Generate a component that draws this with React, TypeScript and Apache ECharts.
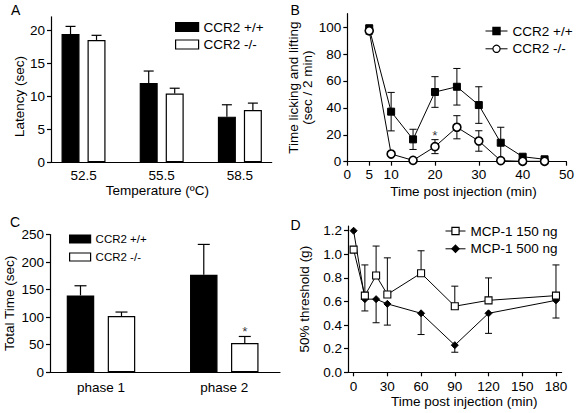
import React, { useEffect, useRef } from 'react';
import * as echarts from 'echarts';

const FONT = '"Liberation Sans", Arial, Helvetica, sans-serif';
const INK = '#000';

// ---------- Panel A : latency vs temperature ----------
const tempCategories = ['52.5', '55.5', '58.5'];
const latencyWT = [19.4, 12.0, 6.9];
const latencyWTsem = [1.15, 1.8, 1.8];
const latencyKO = [18.5, 10.4, 7.9];
const latencyKOsem = [0.7, 0.8, 1.05];
const latencyTicks = [0, 5, 10, 15, 20];

// ---------- Panel B : licking / lifting time course ----------
const timeB = [5, 10, 15, 20, 25, 30, 35, 40, 45];
const lickWT = [99.1, 37.2, 16.6, 51.8, 55.7, 42.1, 14.1, 3.7, 1.8];
const lickWTsem = [2.5, 14.3, 7.5, 11.4, 13.6, 13.6, 11.5, 1.5, 1.0];
const lickKO = [97.3, 5.7, 1.0, 11.2, 25.6, 15.4, 0.8, 0.3, 0.3];
const lickKOsem = [2.5, 1.5, 0.8, 5.2, 8.6, 7.6, 0.8, 0.5, 0.5];
const lickXTicks = [0, 5, 10, 20, 30, 40, 50];
const lickYTicks = [0, 20, 40, 60, 80, 100];
const lickStars = [[20, 19.8]];

// ---------- Panel C : total time per phase ----------
const phaseCategories = ['phase 1', 'phase 2'];
const totalWT = [139.5, 177];
const totalWTsem = [17.5, 55];
const totalKO = [102, 53];
const totalKOsem = [7.3, 12];
const totalTicks = [0, 50, 100, 150, 200, 250];
const totalStars = [[2, 73.5]];

// ---------- Panel D : 50% threshold time course ----------
const timeD = [0, 10, 20, 30, 60, 90, 120, 180];
const thr150 = [1.04, 0.65, 0.82, 0.66, 0.84, 0.56, 0.61, 0.65];
const thr150sem = [0, 0.26, 0.25, 0.31, 0.19, 0.17, 0.19, 0.26];
const thr500 = [1.2, 0.62, 0.62, 0.58, 0.5, 0.23, 0.5, 0.61];
const thr500sem = [0, 0.1, 0.2, 0.18, 0.18, 0.06, 0.17, 0.15];
const thrXTicks = [0, 30, 60, 90, 120, 150, 180];
const thrYTicks = [0, 0.2, 0.4, 0.6, 0.8, 1.0, 1.2];

// styling constants
const A_BAR_W = 18;
const A_GAP = 8;
const C_BAR_W = 27.5;
const C_GAP = 13.5;

const txt = (size = 13.5) => ({ color: INK, fontSize: size, fontFamily: FONT });

function valueAxis(gridIndex: number, opts: any) {
  const { ticks, tickShow = true, labelFormatter, margin = 6, ...rest } = opts;
  return {
    type: 'value',
    gridIndex,
    axisLine: { show: true, onZero: false, lineStyle: { color: INK, width: 1.2 } },
    axisTick: {
      show: tickShow,
      length: 4,
      customValues: ticks,
      lineStyle: { color: INK, width: 1.2 },
    },
    axisLabel: {
      ...txt(13.5),
      margin,
      customValues: ticks,
      formatter: labelFormatter,
    },
    splitLine: { show: false },
    nameLocation: 'middle',
    ...rest,
  };
}

function errorSeries(
  idx: number,
  xs: number[],
  ys: number[],
  errs: number[],
  offset: number,
  cap: number,
  dir: 'up' | 'down' | 'both',
  lw = 1.1
) {
  return {
    type: 'custom',
    xAxisIndex: idx,
    yAxisIndex: idx,
    z: 1,
    silent: true,
    data: xs.map((x, i) => [x, ys[i], errs[i]]),
    encode: { x: 0, y: 1 },
    renderItem: (_params: any, api: any) => {
      const x = api.value(0);
      const y = api.value(1);
      const e = api.value(2);
      if (!e) return { type: 'group', children: [] };
      const p = api.coord([x, y]);
      const cx = p[0] + offset;
      const top = api.coord([x, dir === 'down' ? y : y + e])[1];
      const bot = api.coord([x, dir === 'up' ? y : y - e])[1];
      const style = { stroke: INK, lineWidth: lw, fill: 'none' };
      const children: any[] = [
        { type: 'line', shape: { x1: cx, y1: top, x2: cx, y2: bot }, style },
      ];
      if (dir !== 'down')
        children.push({ type: 'line', shape: { x1: cx - cap, y1: top, x2: cx + cap, y2: top }, style });
      if (dir !== 'up')
        children.push({ type: 'line', shape: { x1: cx - cap, y1: bot, x2: cx + cap, y2: bot }, style });
      return { type: 'group', children };
    },
  };
}

function starSeries(idx: number, pts: number[][], dx = 0) {
  return {
    type: 'scatter',
    xAxisIndex: idx,
    yAxisIndex: idx,
    silent: true,
    symbol: 'circle',
    symbolSize: 1,
    itemStyle: { color: 'rgba(0,0,0,0)' },
    data: pts,
    label: {
      show: true,
      position: 'inside',
      offset: [dx, 0],
      formatter: '*',
      ...txt(13.5),
    },
  };
}

const WT = 'CCR2 +/+';
const KO = 'CCR2 -/-';

export default function App() {
  const ref = useRef<HTMLDivElement>(null);

  useEffect(() => {
    if (!ref.current) return;
    const chart = echarts.init(ref.current, undefined, { renderer: 'svg' });

    const option: any = {
      animation: false,
      backgroundColor: '#fff',
      textStyle: { fontFamily: FONT, color: INK },
      grid: [
        { left: 51, top: 16.8, width: 220.7, height: 145.5 },
        { left: 347.3, top: 13.7, width: 222, height: 148 },
        { left: 50, top: 234.5, width: 230, height: 137.8 },
        { left: 348, top: 226, width: 213.6, height: 146.3 },
      ],
      xAxis: [
        valueAxis(0, {
          min: 0.584,
          max: 3.407,
          ticks: [1, 2, 3],
          tickShow: false,
          labelFormatter: (v: number) => tempCategories[Math.round(v) - 1] ?? '',
          name: 'Temperature (ºC)',
          nameGap: 20,
          nameTextStyle: { ...txt(13.5), padding: [0, 8, 0, 0] },
        }),
        valueAxis(1, {
          min: 0,
          max: 50,
          ticks: lickXTicks,
          name: 'Time post injection (min)',
          nameGap: 23,
          nameTextStyle: { ...txt(13.5), padding: [0, 0, 0, 13] },
        }),
        valueAxis(2, {
          min: 0.5864,
          max: 2.452,
          ticks: [1, 2],
          tickShow: false,
          margin: 8,
          labelFormatter: (v: number) => phaseCategories[Math.round(v) - 1] ?? '',
        }),
        valueAxis(3, {
          min: -5,
          max: 185,
          ticks: thrXTicks,
          margin: 7,
          name: 'Time post injection (min)',
          nameGap: 22,
          nameTextStyle: { ...txt(13.5), padding: [0, 0, 0, 19] },
        }),
      ],
      yAxis: [
        valueAxis(0, {
          min: 0,
          max: 22,
          ticks: latencyTicks,
          name: 'Latency (sec)',
          nameRotate: 90,
          nameGap: 25,
          nameTextStyle: { ...txt(13.5), padding: [0, 14, 0, 0] },
        }),
        valueAxis(1, {
          min: 0,
          max: 110,
          ticks: lickYTicks,
          name: 'Time licking and lifting\n(sec / 2 min)',
          nameRotate: 90,
          nameGap: 28,
          nameTextStyle: { ...txt(13.5), lineHeight: 14 },
        }),
        valueAxis(2, {
          min: 0,
          max: 250,
          ticks: totalTicks,
          name: 'Total Time (sec)',
          nameRotate: 90,
          nameGap: 34,
          nameTextStyle: { ...txt(13.5) },
        }),
        valueAxis(3, {
          min: 0,
          max: 1.24,
          ticks: thrYTicks,
          labelFormatter: (v: number) => v.toFixed(1),
          name: '50% threshold (g)',
          nameRotate: 90,
          nameGap: 37,
          nameTextStyle: { ...txt(13.5) },
        }),
      ],
      legend: [
        {
          left: 175,
          top: 20,
          orient: 'vertical',
          padding: 0,
          itemWidth: 23,
          itemHeight: 9,
          itemGap: 3.5,
          icon: 'rect',
          selectedMode: false,
          itemStyle: { borderWidth: 1.2 },
          textStyle: txt(13.5),
          data: [WT, KO],
        },
        {
          left: 485,
          top: 24,
          orient: 'vertical',
          padding: 0,
          itemWidth: 22,
          itemHeight: 9,
          itemGap: 3.8,
          selectedMode: false,
          itemStyle: { borderWidth: 1.2 },
          lineStyle: { width: 1 },
          textStyle: txt(13.5),
          formatter: (n: string) => n.trim(),
          data: [WT + ' ', KO + ' '],
        },
        {
          left: 69,
          top: 233,
          orient: 'vertical',
          padding: 0,
          itemWidth: 21,
          itemHeight: 8,
          itemGap: 6,
          icon: 'rect',
          selectedMode: false,
          itemStyle: { borderWidth: 1.2 },
          textStyle: txt(11.5),
          formatter: (n: string) => n.trim(),
          data: [WT + '  ', KO + '  '],
        },
        {
          left: 445,
          top: 224,
          orient: 'vertical',
          padding: 0,
          itemWidth: 20,
          itemHeight: 9,
          itemGap: 3.8,
          selectedMode: false,
          itemStyle: { borderWidth: 1.2 },
          lineStyle: { width: 1 },
          textStyle: txt(13.5),
          data: ['MCP-1 150 ng', 'MCP-1 500 ng'],
        },
      ],
      graphic: [
        { type: 'text', left: 11, top: 3, style: { text: 'A', fontSize: 14, fontFamily: FONT, fill: INK } },
        { type: 'text', left: 290.5, top: 3, style: { text: 'B', fontSize: 14, fontFamily: FONT, fill: INK } },
        { type: 'text', left: 10, top: 214.5, style: { text: 'C', fontSize: 14, fontFamily: FONT, fill: INK } },
        { type: 'text', left: 290.5, top: 218, style: { text: 'D', fontSize: 14, fontFamily: FONT, fill: INK } },
      ],
      series: [
        // ---- A ----
        {
          type: 'bar',
          name: WT,
          xAxisIndex: 0,
          yAxisIndex: 0,
          barWidth: A_BAR_W,
          barGap: `${(A_GAP / A_BAR_W) * 100}%`,
          itemStyle: { color: INK, borderColor: INK, borderWidth: 1.2 },
          data: latencyWT.map((v, i) => [i + 1, v]),
        },
        {
          type: 'bar',
          name: KO,
          xAxisIndex: 0,
          yAxisIndex: 0,
          barWidth: A_BAR_W,
          itemStyle: { color: '#fff', borderColor: INK, borderWidth: 1.2 },
          data: latencyKO.map((v, i) => [i + 1, v]),
        },
        errorSeries(0, [1, 2, 3], latencyWT, latencyWTsem, -(A_BAR_W + A_GAP) / 2, 5, 'up', 1.2),
        errorSeries(0, [1, 2, 3], latencyKO, latencyKOsem, (A_BAR_W + A_GAP) / 2, 5, 'up', 1.2),

        // ---- B ----
        errorSeries(1, timeB, lickWT, lickWTsem, 0, 3.6, 'both', 1),
        errorSeries(1, timeB, lickKO, lickKOsem, 0, 3.6, 'both', 1),
        {
          type: 'line',
          name: WT + ' ',
          xAxisIndex: 1,
          yAxisIndex: 1,
          z: 3,
          symbol: 'rect',
          symbolSize: 7,
          color: INK,
          lineStyle: { color: INK, width: 1 },
          itemStyle: { color: INK, borderColor: INK, borderWidth: 1 },
          data: timeB.map((t, i) => [t, lickWT[i]]),
        },
        {
          type: 'line',
          name: KO + ' ',
          xAxisIndex: 1,
          yAxisIndex: 1,
          z: 4,
          symbol: 'circle',
          symbolSize: 8,
          color: INK,
          lineStyle: { color: INK, width: 1 },
          itemStyle: { color: '#fff', borderColor: INK, borderWidth: 1.6 },
          data: timeB.map((t, i) => [t, lickKO[i]]),
        },
        starSeries(1, lickStars),

        // ---- C ----
        {
          type: 'bar',
          name: WT + '  ',
          xAxisIndex: 2,
          yAxisIndex: 2,
          barWidth: C_BAR_W,
          barGap: `${(C_GAP / C_BAR_W) * 100}%`,
          itemStyle: { color: INK, borderColor: INK, borderWidth: 1.2 },
          data: totalWT.map((v, i) => [i + 1, v]),
        },
        {
          type: 'bar',
          name: KO + '  ',
          xAxisIndex: 2,
          yAxisIndex: 2,
          barWidth: C_BAR_W,
          itemStyle: { color: '#fff', borderColor: INK, borderWidth: 1.2 },
          data: totalKO.map((v, i) => [i + 1, v]),
        },
        errorSeries(2, [1, 2], totalWT, totalWTsem, -(C_BAR_W + C_GAP) / 2, 6, 'up', 1.2),
        errorSeries(2, [1, 2], totalKO, totalKOsem, (C_BAR_W + C_GAP) / 2, 6, 'up', 1.2),
        starSeries(2, totalStars, (C_BAR_W + C_GAP) / 2),

        // ---- D ----
        errorSeries(3, timeD, thr150, thr150sem, 0, 3.5, 'up', 1),
        errorSeries(3, timeD, thr500, thr500sem, 0, 3.5, 'down', 1),
        {
          type: 'line',
          name: 'MCP-1 150 ng',
          xAxisIndex: 3,
          yAxisIndex: 3,
          z: 4,
          symbol: 'rect',
          symbolSize: 7,
          color: INK,
          lineStyle: { color: INK, width: 1 },
          itemStyle: { color: '#fff', borderColor: INK, borderWidth: 1.1 },
          data: timeD.map((t, i) => [t, thr150[i]]),
        },
        {
          type: 'line',
          name: 'MCP-1 500 ng',
          xAxisIndex: 3,
          yAxisIndex: 3,
          z: 3,
          symbol: 'diamond',
          symbolSize: 7,
          color: INK,
          lineStyle: { color: INK, width: 1 },
          itemStyle: { color: INK, borderColor: INK, borderWidth: 1 },
          data: timeD.map((t, i) => [t, thr500[i]]),
        },
      ],
    };

    chart.setOption(option);
    return () => chart.dispose();
  }, []);

  return (
    <div
      ref={ref}
      style={{ position: 'absolute', left: 0, top: 0, width: 577, height: 413, background: '#fff' }}
    />
  );
}
